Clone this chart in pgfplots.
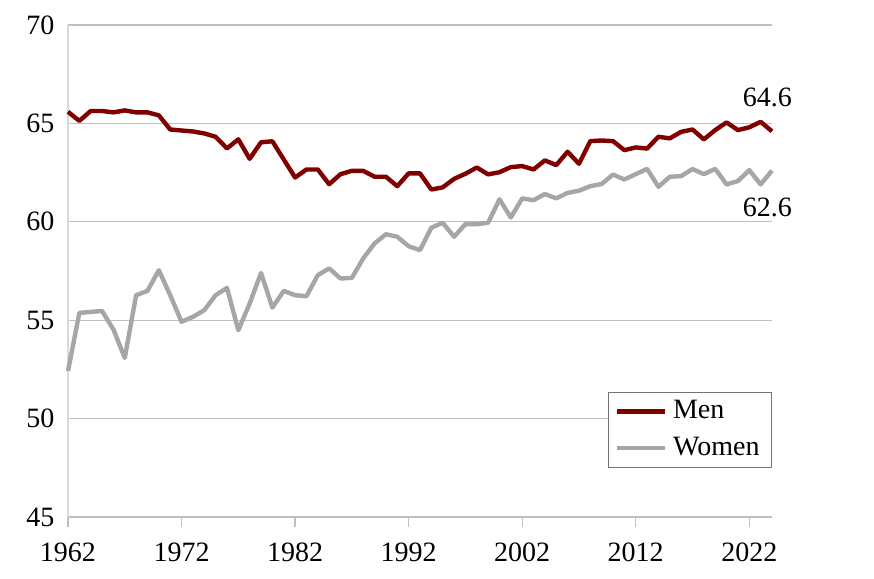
\documentclass[border=0pt]{standalone}
\usepackage{pgfplots}
\pgfplotsset{compat=1.18}
\usepackage{pgfplotstable}
\usepackage{fontspec}
\setmainfont{Liberation Serif}
\definecolor{menred}{RGB}{128,0,0}
\definecolor{womgray}{RGB}{166,166,166}
\definecolor{gridgray}{RGB}{191,191,191}
\pgfplotstableread{
year men women
1962 65.59 52.42
1963 65.13 55.37
1964 65.63 55.42
1965 65.63 55.47
1966 65.56 54.53
1967 65.66 53.08
1968 65.56 56.27
1969 65.56 56.49
1970 65.41 57.54
1971 64.69 56.27
1972 64.64 54.92
1973 64.59 55.17
1974 64.49 55.51
1975 64.32 56.27
1976 63.73 56.64
1977 64.19 54.49
1978 63.20 55.85
1979 64.04 57.40
1980 64.09 55.64
1981 63.17 56.49
1982 62.25 56.27
1983 62.66 56.22
1984 62.66 57.29
1985 61.91 57.63
1986 62.42 57.12
1987 62.59 57.15
1988 62.59 58.14
1989 62.29 58.90
1990 62.29 59.37
1991 61.81 59.24
1992 62.46 58.76
1993 62.46 58.56
1994 61.64 59.70
1995 61.75 59.95
1996 62.18 59.24
1997 62.44 59.88
1998 62.76 59.88
1999 62.41 59.95
2000 62.52 61.14
2001 62.78 60.22
2002 62.83 61.19
2003 62.66 61.10
2004 63.12 61.41
2005 62.88 61.19
2006 63.56 61.47
2007 62.95 61.58
2008 64.10 61.81
2009 64.13 61.92
2010 64.10 62.40
2011 63.64 62.15
2012 63.78 62.42
2013 63.72 62.69
2014 64.32 61.78
2015 64.24 62.29
2016 64.57 62.32
2017 64.69 62.68
2018 64.19 62.42
2019 64.66 62.69
2020 65.05 61.90
2021 64.66 62.07
2022 64.80 62.63
2023 65.08 61.90
2024 64.60 62.60
}\datatable
\begin{document}
\fontsize{14}{16}\selectfont
\begin{tikzpicture}
\useasboundingbox (-34pt,-31pt) rectangle (403pt,258.5pt);
\begin{axis}[
  at={(0,0)}, anchor=south west,
  scale only axis, width=352pt, height=246pt,
  xmin=1962, xmax=2024, ymin=45, ymax=70,
  xtick={1962,1972,...,2022}, ytick={45,50,...,70},
  xticklabel style={/pgf/number format/1000 sep={}},
  /pgf/number format/assume math mode=true,
  ymajorgrids, grid style={gridgray, line width=0.6pt},
  axis x line*=bottom, axis y line*=left,
  x axis line style={-, draw=gridgray, line width=0.8pt},
  y axis line style={-, draw=gridgray!60, line width=0.8pt},
  ytick style={draw=none},
  xtick style={draw=gridgray, line width=0.6pt},
  xtick align=outside, major tick length=5pt,
  tick label style={font=\fontsize{14}{16}\selectfont},
  yticklabel style={xshift=-2pt},
  xticklabel style={yshift=-3pt},
  legend style={at={(1,0.1)}, anchor=south east, draw=gridgray!60!black, line width=0.5pt,
    font=\fontsize{14}{16}\selectfont, row sep=3pt, inner xsep=3pt, inner ysep=2pt,
    nodes={inner xsep=3pt}},
  legend cell align=left,
  legend image code/.code={\draw[#1, line width=2.2pt] (-2pt,0pt) -- (22pt,0pt);},
  clip=false,
]
\addplot[menred, line width=2.2pt, line join=round] table[x=year, y=men] {\datatable};
\addlegendentry{Men}
\addplot[womgray, line width=2.2pt, line join=round] table[x=year, y=women] {\datatable};
\addlegendentry{Women}
\node at (axis cs:2023.6,66.34) {64.6};
\node at (axis cs:2023.6,60.74) {62.6};
\end{axis}
\end{tikzpicture}
\end{document}
